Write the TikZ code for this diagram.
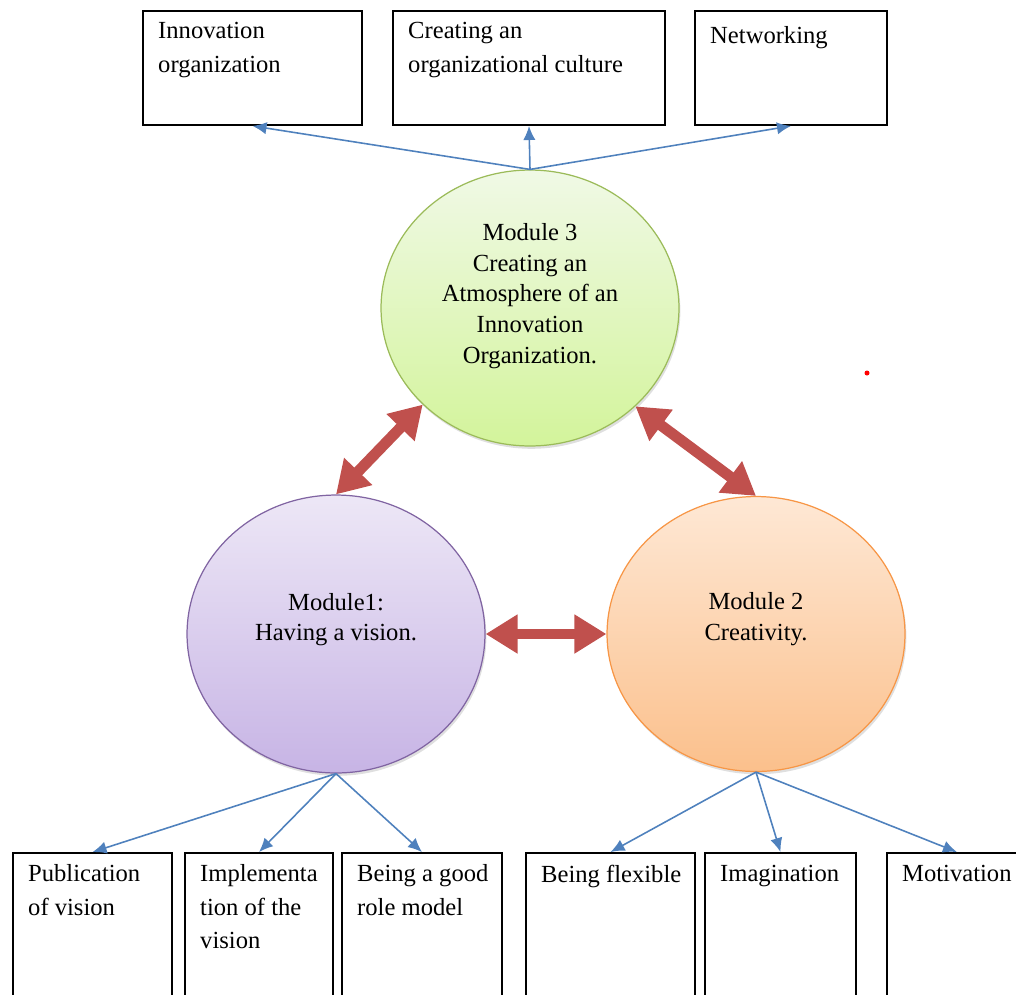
\documentclass[tikz,border=0pt]{standalone}
\usepackage{fontspec}
\setmainfont{Liberation Serif}
\usetikzlibrary{arrows.meta,shapes.geometric,shadows}

\definecolor{linkblue}{HTML}{4F81BD}
\definecolor{bondred}{HTML}{C0504D}
\definecolor{greenline}{HTML}{9BBB59}
\definecolor{greentop}{HTML}{F0F9E6}
\definecolor{greenbottom}{HTML}{D3F49B}
\definecolor{purpleline}{HTML}{8064A2}
\definecolor{purpletop}{HTML}{EDE7F6}
\definecolor{purplebottom}{HTML}{C7B4E5}
\definecolor{orangeline}{HTML}{F79646}
\definecolor{orangetop}{HTML}{FEE8D5}
\definecolor{orangebottom}{HTML}{FBC08C}

\tikzset{
  topic/.style={draw, line width=1.1pt, inner sep=0pt},
  topictext/.style={anchor=north west, inner xsep=9pt, inner ysep=7pt, align=left,
    font=\fontsize{14pt}{19pt}\selectfont},
  module/.style={ellipse, draw, line width=0.7pt, minimum width=5.96cm, inner sep=0pt,
    drop shadow={opacity=0.25, shadow xshift=0.8pt, shadow yshift=-1.6pt}},
  modtext/.style={align=center, font=\fontsize{14pt}{17.5pt}\selectfont},
  link/.style={draw=linkblue, line width=0.9pt, -{Latex[length=8pt,width=7pt]}},
  bond/.style={draw=bondred, line width=6.2pt,
    {Triangle[length=0.64cm,width=0.74cm]}-{Triangle[length=0.64cm,width=0.74cm]}},
}

\begin{document}
\begin{tikzpicture}[x=0.02cm, y=-0.02cm]
  \clip (0,0) rectangle (1016,994);

  % upper boxes
  \node[topic, minimum width=4.38cm, minimum height=2.28cm,
    label={[topictext]north west:{Innovation\\organization}}] (inno) at (252.5,68) {};
  \node[topic, minimum width=5.44cm, minimum height=2.28cm,
    label={[topictext]north west:{Creating an\\organizational culture}}] (culture) at (529,68) {};
  \node[topic, minimum width=3.84cm, minimum height=2.28cm,
    label={[topictext, inner ysep=9pt]north west:{Networking}}] (network) at (791,68) {};

  % modules
  \node[module, draw=greenline, top color=greentop, bottom color=greenbottom,
    minimum height=5.52cm,
    label={[modtext, yshift=0.24cm]center:{Module 3\\Creating an\\Atmosphere of an\\Innovation\\Organization.}}]
    (m3) at (530,308) {};
  \node[module, draw=purpleline, top color=purpletop, bottom color=purplebottom,
    minimum height=5.56cm,
    label={[modtext, yshift=0.29cm]center:{Module1:\\Having a vision.}}] (m1) at (336,634) {};
  \node[module, draw=orangeline, top color=orangetop, bottom color=orangebottom,
    minimum height=5.5cm,
    label={[modtext, yshift=0.3cm]center:{Module 2\\Creativity.}}] (m2) at (756,634) {};

  % lower boxes
  \node[topic, minimum width=3.18cm, minimum height=3.2cm,
    label={[topictext]north west:{Publication\\of vision}}] (publish) at (92.5,933) {};
  \node[topic, minimum width=2.96cm, minimum height=3.2cm,
    label={[topictext]north west:{Implementa\\tion of the\\vision}}] (implement) at (259,933) {};
  \node[topic, minimum width=3.2cm, minimum height=3.2cm,
    label={[topictext]north west:{Being a good\\role model}}] (rolemodel) at (422,933) {};
  \node[topic, minimum width=3.38cm, minimum height=3.2cm,
    label={[topictext]north west:{Being flexible}}] (flexible) at (610.5,933) {};
  \node[topic, minimum width=3.02cm, minimum height=3.2cm,
    label={[topictext]north west:{Imagination}}] (imagine) at (780.5,933) {};
  \node[topic, minimum width=2.8cm, minimum height=3.2cm,
    label={[topictext]north west:{Motivation}}] (motive) at (957,933) {};

  % connectors
  \draw[link] (m3.north) -- (inno.south);
  \draw[link] (m3.north) -- (culture.south);
  \draw[link] (m3.north) -- (network.south);
  \draw[link] (m1.south) -- (publish.north);
  \draw[link] (m1.south) -- (implement.north);
  \draw[link] (m1.south) -- (rolemodel.north);
  \draw[link] (m2.south) -- (flexible.north);
  \draw[link] (m2.south) -- (imagine.north);
  \draw[link] (m2.south) -- (motive.north);

  \draw[bond] (m1.north) -- (m3.222);
  \draw[bond] (m3.317) -- (m2.north);
  \draw[bond] (m1.east) -- (m2.west);

  \fill[red] (867,373) circle (0.05cm);
\end{tikzpicture}
\end{document}
